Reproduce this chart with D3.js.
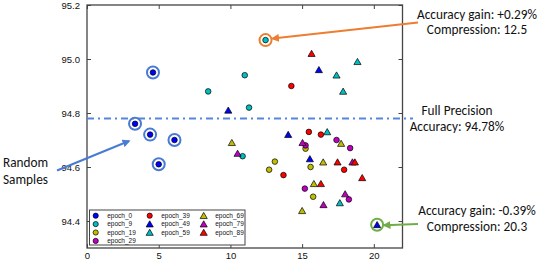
<!DOCTYPE html>
<html><head><meta charset="utf-8">
<script src="https://cdn.jsdelivr.net/npm/d3@7"></script>
<style>body{margin:0;background:#fff}svg{display:block}</style>
</head><body><svg id="c" width="540" height="262"></svg>
<script>
// ---- data ----
const seriesNames = ["epoch_0","epoch_9","epoch_19","epoch_29","epoch_39","epoch_49","epoch_59","epoch_69","epoch_79","epoch_89"];
const seriesColors = ["#0000ff","#00bfbf","#bfbf00","#bf00bf","#ff0000","#0000ff","#00bfbf","#bfbf00","#bf00bf","#ff0000"];
const seriesShapes = ["circle","circle","circle","circle","circle","triangle","triangle","triangle","triangle","triangle"];
const epoch_0  = [[3.35,94.76],[4.6,94.95],[4.4,94.72],[6.1,94.70],[5.0,94.61]];
const epoch_9  = [[8.45,94.88],[11.0,94.94],[11.3,94.82],[12.45,95.07],[10.85,94.64]];
const epoch_19 = [[13.1,94.62],[12.7,94.59],[15.24,94.668],[15.59,94.60],[15.77,94.49]];
const epoch_29 = [[17.4,94.70],[18.35,94.67],[15.24,94.68],[15.19,94.52],[18.26,94.48]];
const epoch_39 = [[14.25,94.90],[15.47,94.73],[16.31,94.72],[17.93,94.59],[13.7,94.57]];
const epoch_49 = [[9.85,94.81],[16.17,94.96],[14.03,94.72],[15.54,94.63],[20.23,94.386]];
const epoch_59 = [[18.86,94.99],[17.4,94.94],[17.86,94.88],[16.75,94.73],[17.63,94.467]];
const epoch_69 = [[10.1,94.69],[17.72,94.687],[16.47,94.618],[15.82,94.538],[15.0,94.438]];
const epoch_79 = [[10.5,94.65],[15.03,94.69],[18.51,94.618],[18.0,94.50],[16.49,94.46]];
const epoch_89 = [[15.66,95.02],[17.47,94.618],[18.68,94.618],[19.19,94.56],[16.31,94.538]];
const seriesValues = [epoch_0,epoch_9,epoch_19,epoch_29,epoch_39,epoch_49,epoch_59,epoch_69,epoch_79,epoch_89];
const xTicks = [0,5,10,15,20];
const yTicks = [94.4,94.6,94.8,95.0,95.2];
const xDomain = [0,22];
const yDomain = [94.3,95.2];
const fullPrecision = 94.78;
const bestGain = [12.45,95.07];
const bestComp = [20.23,94.386];

// ---- layout ----
const L=87, R=402.5, T=5, B=248;
const svg = d3.select("#c");
const x = d3.scaleLinear().domain(xDomain).range([L,R]);
const y = d3.scaleLinear().domain(yDomain).range([B,T]);
const frame = "#444";

// axes (inward ticks on all sides)
const tickFont = "Liberation Sans, Arial, sans-serif";
const ax = (g)=>{ g.select(".domain").remove(); g.selectAll("line").attr("stroke",frame); g.selectAll("text").attr("font-family",tickFont).attr("font-size","9.5px").attr("fill","#111"); };
svg.append("g").attr("transform",`translate(0,${B})`).call(d3.axisBottom(x).tickValues(xTicks).tickSizeInner(-4).tickPadding(4.5).tickFormat(d3.format("d"))).call(ax);
svg.append("g").attr("transform",`translate(0,${T})`).call(d3.axisTop(x).tickValues(xTicks).tickSizeInner(-4).tickFormat("")).call(ax);
svg.append("g").attr("transform",`translate(${L},0)`).call(d3.axisLeft(y).tickValues(yTicks).tickSizeInner(-4).tickPadding(7).tickFormat(d3.format(".1f"))).call(ax);
svg.append("g").attr("transform",`translate(${R},0)`).call(d3.axisRight(y).tickValues(yTicks).tickSizeInner(-4).tickFormat("")).call(ax);
svg.append("rect").attr("x",L).attr("y",T).attr("width",R-L).attr("height",B-T).attr("fill","none").attr("stroke",frame).attr("stroke-width",1.3);

// full precision line
svg.append("line").attr("x1",L).attr("x2",413).attr("y1",y(fullPrecision)).attr("y2",y(fullPrecision))
  .attr("stroke","#5585dd").attr("stroke-width",2).attr("stroke-dasharray","7,4,2,4");

// markers
const tri = d3.symbol().type(d3.symbolTriangle).size(22);
function drawMarker(g, shape, color, cx, cy, r){
  if(shape==="circle") g.append("circle").attr("cx",cx).attr("cy",cy).attr("r",r||2.8).attr("fill",color).attr("stroke","#000").attr("stroke-width",0.7);
  else g.append("path").attr("d",tri).attr("transform",`translate(${cx},${cy+0.8})`).attr("fill",color).attr("stroke","#000").attr("stroke-width",0.7);
}
const pts = svg.append("g");
seriesValues.forEach((s,i)=>s.forEach(p=>drawMarker(pts,seriesShapes[i],seriesColors[i],x(p[0]),y(p[1]))));

// highlight rings
epoch_0.forEach(p=>svg.append("circle").attr("cx",x(p[0])).attr("cy",y(p[1])).attr("r",6).attr("fill","none").attr("stroke","#4a7bd4").attr("stroke-width",2));
svg.append("circle").attr("cx",x(bestGain[0])).attr("cy",y(bestGain[1])).attr("r",6).attr("fill","none").attr("stroke","#ed7d31").attr("stroke-width",2);
svg.append("circle").attr("cx",x(bestComp[0])).attr("cy",y(bestComp[1])).attr("r",6).attr("fill","none").attr("stroke","#70ad47").attr("stroke-width",2);

// arrows
const defs = svg.append("defs");
function marker(id,color){
  defs.append("marker").attr("id",id).attr("viewBox","0 0 10 10").attr("refX",8).attr("refY",5)
    .attr("markerWidth",4).attr("markerHeight",4).attr("orient","auto")
    .append("path").attr("d","M0,0L10,5L0,10z").attr("fill",color);
}
marker("ao","#ed7d31"); marker("ag","#70ad47"); marker("ab","#4a7bd4");
function arrow(x1,y1,x2,y2,color,id){
  svg.append("line").attr("x1",x1).attr("y1",y1).attr("x2",x2).attr("y2",y2).attr("stroke",color).attr("stroke-width",2).attr("marker-end",`url(#${id})`);
}
arrow(418,22.5,x(bestGain[0])+7,y(bestGain[1])-1.5,"#ed7d31","ao");
arrow(418,224,x(bestComp[0])+7,y(bestComp[1])+0.5,"#70ad47","ag");
arrow(57,170.5,129,141,"#4a7bd4","ab");

// annotation text
const annFont = "Carlito, Lato, 'Open Sans', sans-serif";
function txt(s,xx,yy,anchor){ svg.append("text").attr("x",xx).attr("y",yy).attr("text-anchor",anchor||"middle").attr("font-family",annFont).attr("font-size","13.3px").attr("fill","#111").text(s); }
txt("Accuracy gain: +0.29%",477,18.5);
txt("Compression: 12.5",477,34);
txt("Full Precision",457,115);
txt("Accuracy: 94.78%",457,130.5);
txt("Accuracy gain: -0.39%",477,214.5);
txt("Compression: 20.3",477,231);
txt("Random",3,167,"start");
txt("Samples",3,183.5,"start");

// legend
const lg = svg.append("g");
lg.append("rect").attr("x",89.5).attr("y",210).attr("width",155.5).attr("height",35).attr("fill","#fff").attr("stroke",frame).attr("stroke-width",1);
const colX=[95.7,149.7,203.7], rowsPerCol=[4,3,3];
let k=0;
colX.forEach((cx,ci)=>{ for(let r=0;r<rowsPerCol[ci];r++){ const cy=215.7+r*8.4;
  drawMarker(lg,seriesShapes[k],seriesColors[k],cx,cy,2.6);
  lg.append("text").attr("x",cx+11.5).attr("y",cy+2.3).attr("font-family",tickFont).attr("font-size","6.5px").attr("fill","#111").text(seriesNames[k]);
  k++; }});
</script></body></html>
